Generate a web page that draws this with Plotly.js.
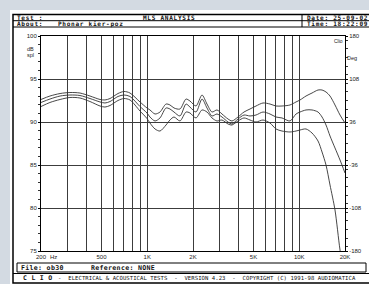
<!DOCTYPE html>
<html>
<head>
<meta charset="utf-8">
<script src="https://cdn.plot.ly/plotly-3.0.1.min.js"></script>
<style>
html,body{margin:0;padding:0;background:#d3dae2;}
#chart{width:369px;height:284px;}
</style>
</head>
<body>
<div id="chart"></div>
<script>
// ---- data ----
const freq = [200,229,267,310,361,420,489,527,569,642,
  703,770,896,996,1042,1125,1213,1329,1411,1500,
  1642,1799,1910,2093,2292,2472,2667,2876,3103,3398,
  3611,3954,4330,4743,5194,5775,6422,7032,7700,8695,
  9524,10117,11078,12134,13290,14125,15000,15939,17185,18547,
  20000];
const splTop = [92.62,93.02,93.31,93.43,93.37,93.02,92.62,92.56,92.73,93.31,
  93.55,93.37,92.33,91.63,91.40,90.93,91.16,92.09,91.98,91.63,
  91.51,92.67,92.44,91.86,93.14,92.09,91.16,91.40,90.93,90.35,
  90.12,90.58,91.16,91.51,91.86,92.21,92.09,91.86,91.86,91.98,
  92.33,92.56,93.02,93.37,93.72,93.72,93.49,93.02,91.98,90.81,
  89.88];
const splMid = [92.27,92.67,93.02,93.14,93.08,92.73,92.33,92.21,92.38,92.97,
  93.14,92.97,91.80,91.05,90.58,90.12,90.47,91.63,91.51,91.16,
  90.70,92.09,91.74,91.16,92.67,91.63,90.70,90.93,90.58,90.00,
  89.77,90.35,90.81,90.70,90.81,91.16,90.93,90.58,90.47,90.12,
  90.93,91.16,91.40,91.40,91.16,90.58,89.65,88.37,86.98,85.58,
  84.07];
const splLow = [91.80,92.27,92.62,92.85,92.79,92.38,91.86,91.74,91.92,92.50,
  92.73,92.56,91.28,90.41,89.88,89.19,88.95,89.65,90.23,90.58,
  90.12,91.16,91.05,90.47,91.40,91.16,90.47,90.12,90.23,89.77,
  89.65,90.12,90.47,90.23,90.00,90.23,89.88,89.19,88.95,88.84,
  88.95,89.07,89.19,88.72,87.79,86.51,85.00,82.67,79.77,75.12,
  71.63];
const xGridVals = [200,300,400,500,600,700,800,900,1000,2000,3000,4000,5000,6000,7000,8000,9000,10000,20000];
const xGridText = ["200","","","500","","","","","1K","2K","","","5K","","","","","10K","20K"];
const dbTickVals = [75,80,85,90,95,100];
const degTickVals = [-180,-108,-36,36,108,180];
const degTickText = ["-180","-108","-36","36","108","180"];

// ---- geometry (pixels) ----
const L=41, R=345, T=36, B=251, W=R-L, H=B-T;
const px = x => (x-L)/W;
const py = y => (B-y)/H;

const lineStyle = {color:'#333', width:0.9, shape:'spline', smoothing:0.8};
const traces = [splTop, splMid, splLow].map(v => ({
  x: freq, y: v, type:'scatter', mode:'lines', line: lineStyle, hoverinfo:'skip'
}));
// empty trace so that the phase (right) axis is drawn
traces.push({x:[], y:[], yaxis:'y2', type:'scatter', mode:'lines', hoverinfo:'skip'});

const mono = 'DejaVu Sans Mono, monospace';
const sans = 'Liberation Sans, Arial, sans-serif';
function ann(text, x, y, opts) {
  return Object.assign({text, x:px(x), y:py(y), xref:'paper', yref:'paper',
    showarrow:false, xanchor:'left', yanchor:'middle', borderpad:0,
    font:{family:mono, size:6.1, color:'#111'}}, opts||{});
}
const sp = (t, s) => '<span style="letter-spacing:' + s + 'px"><b>' + t + '</b></span>';
function line(x0,y0,x1,y1,w,c){
  return {type:'line', xref:'paper', yref:'paper', x0:px(x0), y0:py(y0), x1:px(x1), y1:py(y1),
    line:{color:c||'#000', width:w||1}, layer:'above'};
}

const shapes = [
  {type:'rect', xref:'paper', yref:'paper', x0:px(10), y0:py(10), x1:px(372), y1:py(290),
   fillcolor:'#ffffff', line:{width:0}, layer:'below'},
  {type:'rect', xref:'paper', yref:'paper', x0:px(13), y0:py(14.5), x1:px(375), y1:py(283),
   fillcolor:'rgba(0,0,0,0)', line:{color:'#000', width:1.5}, layer:'above'},
  line(13,20.7,369,20.7,1),
  line(13,27,369,27,1),
  line(302,14.5,302,27,1),
  {type:'rect', xref:'paper', yref:'paper', x0:px(17), y0:py(263), x1:px(366), y1:py(272),
   fillcolor:'rgba(0,0,0,0)', line:{color:'#000', width:1}, layer:'above'},
  line(13,273.5,369,273.5,1)
];

const annotations = [
  ann(sp('Test :',0.7), 16, 17.6),
  ann(sp('MLS ANALYSIS',0.7), 169, 17.6, {xanchor:'center'}),
  ann(sp('Date: 25-09-02',0.7), 305.5, 17.6),
  ann(sp('About:',0.7), 16, 24.0),
  ann(sp('Phonar kier-poz',0.7), 57, 24.0),
  ann(sp('Time: 18:22:09',0.7), 305.5, 24.0),
  ann('dB', 30, 49.5, {xanchor:'center', font:{family:sans, size:5.5, color:'#222'}}),
  ann('spl', 30.5, 54.5, {xanchor:'center', font:{family:sans, size:5.5, color:'#222'}}),
  ann('Deg', 352, 58, {xanchor:'center', font:{family:sans, size:5.5, color:'#222'}}),
  ann('Clio', 338, 40.5, {xanchor:'center', font:{family:sans, size:5, color:'#222'}}),
  ann('Hz', 53, 256.5, {xanchor:'center', font:{family:sans, size:6, color:'#222'}}),
  ann(sp('File: ob30',0.3), 20, 267.5, {font:{family:mono, size:6.6, color:'#111'}}),
  ann(sp('Reference: NONE',0.3), 90, 267.5, {font:{family:mono, size:6.6, color:'#111'}}),
  ann(sp('C L I O',0.3), 22, 278, {font:{family:mono, size:6.5, color:'#111'}}),
  ann('<span style="letter-spacing:0.05px">-  ELECTRICAL &amp; ACOUSTICAL TESTS  -  VERSION 4.23  -  COPYRIGHT (C) 1991-98 AUDIOMATICA</span>', 57, 278,
      {font:{family:mono, size:5.6, color:'#111'}})
];

const layout = {
  width:369, height:284,
  margin:{l:L, r:369-R, t:T, b:284-B, pad:0},
  paper_bgcolor:'#d3dae2',
  plot_bgcolor:'#ffffff',
  showlegend:false,
  xaxis:{type:'log', range:[Math.log10(200), Math.log10(20000)],
    tickmode:'array', tickvals:xGridVals, ticktext:xGridText,
    showgrid:true, gridcolor:'#3c3c3c', gridwidth:1,
    showline:true, linecolor:'#000', linewidth:1, mirror:true,
    ticks:'', tickfont:{family:sans, size:6, color:'#222'}, zeroline:false, fixedrange:true},
  yaxis:{range:[75,100], tickmode:'array', tickvals:dbTickVals,
    showgrid:true, gridcolor:'#3c3c3c', gridwidth:1,
    showline:true, linecolor:'#000', linewidth:1, mirror:true,
    ticks:'outside', ticklen:2, tickcolor:'#000',
    minor:{dtick:1, ticks:'outside', ticklen:2, tickcolor:'#333', showgrid:false},
    tickfont:{family:sans, size:6, color:'#222'}, zeroline:false, fixedrange:true},
  yaxis2:{range:[-180,180], overlaying:'y', side:'right', anchor:'x',
    tickmode:'array', tickvals:degTickVals, ticktext:degTickText,
    showgrid:false, showline:false, zeroline:false,
    ticks:'outside', ticklen:2, tickcolor:'#000',
    minor:{dtick:14.4, ticks:'outside', ticklen:2, tickcolor:'#333', showgrid:false},
    tickfont:{family:sans, size:6, color:'#222'}, fixedrange:true},
  shapes, annotations
};

Plotly.newPlot('chart', traces, layout, {staticPlot:true, displayModeBar:false});
</script>
</body>
</html>
